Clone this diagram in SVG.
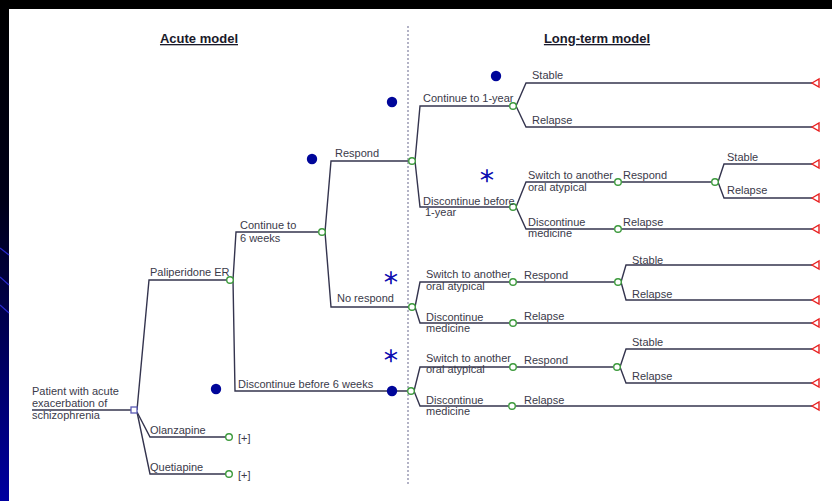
<svg xmlns="http://www.w3.org/2000/svg" width="832" height="501" viewBox="0 0 832 501">
  <defs>
    <linearGradient id="edgeGrad" x1="0" y1="0" x2="0" y2="1">
      <stop offset="0" stop-color="#000000"/>
      <stop offset="0.4" stop-color="#000018"/>
      <stop offset="1" stop-color="#0000a0"/>
    </linearGradient>
    <style>
      .lbl { font-family: "Liberation Sans", Arial, sans-serif; font-size: 11px; fill: #3a3a4a; }
      .title { font-family: "Liberation Sans", Arial, sans-serif; font-size: 13px; font-weight: bold; fill: #1a1a2a; text-decoration: underline; }
      .edge { fill: none; stroke: #34344e; stroke-width: 1.4; }
      .chance { fill: #ffffff; stroke: #3c9a3c; stroke-width: 1.4; }
      .term { fill: #ffffff; stroke: #e82020; stroke-width: 1.4; }
      .root { fill: #ffffff; stroke: #5a5ab4; stroke-width: 1.3; }
      .dot { fill: #00069a; }
      .star { font-family: "DejaVu Sans", sans-serif; font-size: 27px; font-weight: 200; fill: #1010b0; stroke: #1010b0; stroke-width: 0.9; text-anchor: middle; }
      .divider { stroke: #9a9ab4; stroke-width: 1.5; stroke-dasharray: 2 2; }
    </style>
  </defs>

  <!-- slide frame -->
  <rect x="0" y="0" width="832" height="501" fill="#ffffff"/>
  <rect x="0" y="0" width="832" height="9" fill="#000000"/>
  <rect x="0" y="0" width="9" height="501" fill="url(#edgeGrad)"/>
  <g stroke="#2a2ad0" stroke-width="1.2">
    <line x1="0" y1="248" x2="9" y2="255"/>
    <line x1="0" y1="277" x2="9" y2="285"/>
    <line x1="0" y1="305" x2="9" y2="313"/>
  </g>

  <!-- section headings and divider -->
  <text class="title" x="199" y="43" text-anchor="middle">Acute model</text>
  <text class="title" x="597" y="43" text-anchor="middle">Long-term model</text>
  <line class="divider" x1="408" y1="26" x2="408" y2="486"/>

  <!-- connectors -->
  <g id="connectors">
    <path class="edge" d="M32,410 H131"/>
    <path class="edge" d="M137,410 L149,280 H227"/>
    <path class="edge" d="M137,412 L150,437 H226"/>
    <path class="edge" d="M137,412 L150,474 H226"/>

    <path class="edge" d="M233,280 L236,232 H318"/>
    <path class="edge" d="M233,280 L235,391 H407"/>

    <path class="edge" d="M325,232 L331,161 H408"/>
    <path class="edge" d="M325,232 L331,307 H408"/>

    <path class="edge" d="M415,161 L420,106 H509"/>
    <path class="edge" d="M415,161 L420,207 H509"/>

    <path class="edge" d="M516,106 L526,83 H812"/>
    <path class="edge" d="M516,106 L526,127 H812"/>

    <path class="edge" d="M516,207 L526,182 H614"/>
    <path class="edge" d="M516,207 L526,229 H614"/>
    <path class="edge" d="M622,182 H711"/>
    <path class="edge" d="M718,182 L724,164 H812"/>
    <path class="edge" d="M718,182 L724,198 H812"/>
    <path class="edge" d="M622,229 H812"/>

    <path class="edge" d="M415,307 L420,282 H509"/>
    <path class="edge" d="M415,307 L420,323 H509"/>
    <path class="edge" d="M517,282 H614"/>
    <path class="edge" d="M621,282 L626,265 H812"/>
    <path class="edge" d="M621,282 L626,300 H812"/>
    <path class="edge" d="M517,323 H812"/>

    <path class="edge" d="M414,391 L420,367 H509"/>
    <path class="edge" d="M414,391 L420,406 H508"/>
    <path class="edge" d="M517,367 H613"/>
    <path class="edge" d="M620,367 L626,349 H812"/>
    <path class="edge" d="M620,367 L626,383 H812"/>
    <path class="edge" d="M516,406 H812"/>
  </g>

  <!-- acute model nodes -->
  <g id="root">
    <rect class="root" x="131" y="407" width="6" height="6"/>
    <text class="lbl" x="32" y="395">Patient with acute</text>
    <text class="lbl" x="32" y="407">exacerbation of</text>
    <text class="lbl" x="32" y="419">schizophrenia</text>
  </g>
  <g id="paliperidone">
    <circle class="chance" cx="230" cy="280" r="3.3"/>
    <text class="lbl" x="150" y="276">Paliperidone ER</text>
  </g>
  <g id="olanzapine">
    <circle class="chance" cx="229" cy="437" r="3.3"/>
    <text class="lbl" x="150" y="434">Olanzapine</text>
    <text class="lbl" x="238" y="442">[+]</text>
  </g>
  <g id="quetiapine">
    <circle class="chance" cx="229" cy="474" r="3.3"/>
    <text class="lbl" x="150" y="471">Quetiapine</text>
    <text class="lbl" x="238" y="479">[+]</text>
  </g>
  <g id="continue-6wk">
    <circle class="chance" cx="322" cy="232" r="3.3"/>
    <text class="lbl" x="240" y="229">Continue to</text>
    <text class="lbl" x="240" y="242">6 weeks</text>
  </g>
  <g id="discontinue-6wk">
    <circle class="chance" cx="411" cy="391" r="3.3"/>
    <text class="lbl" x="238" y="388">Discontinue before 6 weeks</text>
    <circle class="dot" cx="216" cy="389" r="5.2"/>
    <circle class="dot" cx="392" cy="391" r="5.2"/>
  </g>
  <g id="respond">
    <circle class="chance" cx="412" cy="161" r="3.3"/>
    <text class="lbl" x="335" y="157">Respond</text>
    <circle class="dot" cx="312" cy="159" r="5.2"/>
  </g>
  <g id="no-respond">
    <circle class="chance" cx="412" cy="307" r="3.3"/>
    <text class="lbl" x="337" y="302">No respond</text>
    <text class="star" x="391" y="286">∗</text>
  </g>

  <!-- long-term model: responders -->
  <g id="continue-1yr">
    <circle class="chance" cx="513" cy="106" r="3.3"/>
    <text class="lbl" x="423" y="102">Continue to 1-year</text>
    <circle class="dot" cx="392" cy="102" r="5.2"/>
    <circle class="dot" cx="496" cy="76" r="5.2"/>
  </g>
  <g id="c1-stable">
    <text class="lbl" x="532" y="79">Stable</text>
    <polygon class="term" points="812,83 819,79 819,87"/>
  </g>
  <g id="c1-relapse">
    <text class="lbl" x="532" y="124">Relapse</text>
    <polygon class="term" points="812,127 819,123 819,131"/>
  </g>
  <g id="discontinue-1yr">
    <circle class="chance" cx="513" cy="207" r="3.3"/>
    <text class="lbl" x="423" y="205">Discontinue before</text>
    <text class="lbl" x="425" y="216">1-year</text>
    <text class="star" x="487" y="184">∗</text>
  </g>
  <g id="d1-switch">
    <circle class="chance" cx="618" cy="182" r="3.3"/>
    <text class="lbl" x="528" y="179">Switch to another</text>
    <text class="lbl" x="528" y="191">oral atypical</text>
  </g>
  <g id="d1-respond">
    <circle class="chance" cx="715" cy="182" r="3.3"/>
    <text class="lbl" x="623" y="179">Respond</text>
  </g>
  <g id="d1-stable">
    <text class="lbl" x="727" y="161">Stable</text>
    <polygon class="term" points="812,164 819,160 819,168"/>
  </g>
  <g id="d1-relapse">
    <text class="lbl" x="727" y="194">Relapse</text>
    <polygon class="term" points="812,198 819,194 819,202"/>
  </g>
  <g id="d1-discontinue">
    <circle class="chance" cx="618" cy="229" r="3.3"/>
    <text class="lbl" x="528" y="226">Discontinue</text>
    <text class="lbl" x="528" y="237">medicine</text>
  </g>
  <g id="d1-dc-relapse">
    <text class="lbl" x="623" y="226">Relapse</text>
    <polygon class="term" points="812,229 819,225 819,233"/>
  </g>

  <!-- long-term model: non-responders -->
  <g id="nr-switch">
    <circle class="chance" cx="513" cy="282" r="3.3"/>
    <text class="lbl" x="426" y="278">Switch to another</text>
    <text class="lbl" x="426" y="290">oral atypical</text>
  </g>
  <g id="nr-respond">
    <circle class="chance" cx="618" cy="282" r="3.3"/>
    <text class="lbl" x="524" y="279">Respond</text>
  </g>
  <g id="nr-stable">
    <text class="lbl" x="632" y="264">Stable</text>
    <polygon class="term" points="812,265 819,261 819,269"/>
  </g>
  <g id="nr-relapse">
    <text class="lbl" x="632" y="298">Relapse</text>
    <polygon class="term" points="812,300 819,296 819,304"/>
  </g>
  <g id="nr-discontinue">
    <circle class="chance" cx="513" cy="323" r="3.3"/>
    <text class="lbl" x="426" y="321">Discontinue</text>
    <text class="lbl" x="426" y="332">medicine</text>
  </g>
  <g id="nr-dc-relapse">
    <text class="lbl" x="524" y="320">Relapse</text>
    <polygon class="term" points="812,323 819,319 819,327"/>
  </g>

  <!-- long-term model: early discontinuation -->
  <g id="d6-switch">
    <circle class="chance" cx="513" cy="367" r="3.3"/>
    <text class="lbl" x="426" y="362">Switch to another</text>
    <text class="lbl" x="426" y="373">oral atypical</text>
    <text class="star" x="391" y="364">∗</text>
  </g>
  <g id="d6-respond">
    <circle class="chance" cx="617" cy="367" r="3.3"/>
    <text class="lbl" x="524" y="364">Respond</text>
  </g>
  <g id="d6-stable">
    <text class="lbl" x="632" y="346">Stable</text>
    <polygon class="term" points="812,349 819,345 819,353"/>
  </g>
  <g id="d6-relapse">
    <text class="lbl" x="632" y="380">Relapse</text>
    <polygon class="term" points="812,383 819,379 819,387"/>
  </g>
  <g id="d6-discontinue">
    <circle class="chance" cx="512" cy="406" r="3.3"/>
    <text class="lbl" x="426" y="404">Discontinue</text>
    <text class="lbl" x="426" y="415">medicine</text>
  </g>
  <g id="d6-dc-relapse">
    <text class="lbl" x="524" y="404">Relapse</text>
    <polygon class="term" points="812,406 819,402 819,410"/>
  </g>
</svg>
